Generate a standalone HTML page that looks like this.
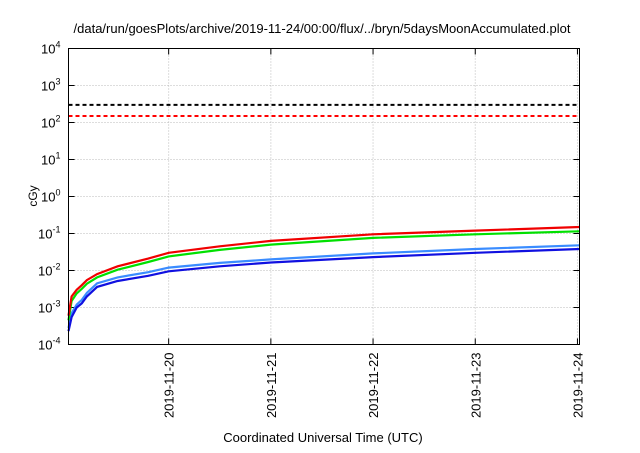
<!DOCTYPE html>
<html><head><meta charset="utf-8"><style>
body{margin:0;background:#fff}
svg{font-family:"Liberation Sans",sans-serif}
</style></head><body>
<svg width="640" height="448">
<text x="322" y="33" font-size="13" text-anchor="middle">/data/run/goesPlots/archive/2019-11-24/00:00/flux/../bryn/5daysMoonAccumulated.plot</text>
<g id="grid"></g><g id="axes"></g><g id="series"></g>
<rect x="68.5" y="48.5" width="511" height="296" fill="none" stroke="#000" stroke-width="1"/>
<text x="0" y="0" font-size="12" text-anchor="middle" transform="translate(37,196) rotate(-90)">cGy</text>
<text x="323" y="442" font-size="13" text-anchor="middle">Coordinated Universal Time (UTC)</text>
</svg>
<script>
const yTickExps=[-4,-3,-2,-1,0,1,2,3,4];
const xTickDays=[1,2,3,4,5];
const xTickLabels=["2019-11-20","2019-11-21","2019-11-22","2019-11-23","2019-11-24"];
const thresholdValues=[300,150];
const thresholdColors=["#000","#f00"];
const seriesDays=[0.02,0.05,0.1,0.15,0.2,0.3,0.5,0.8,1.0,1.5,2.0,3.0,4.0,5.02];
const redValues=[6e-4,2e-3,3e-3,4e-3,5.5e-3,8e-3,1.3e-2,2.1e-2,3e-2,4.5e-2,6.3e-2,9.5e-2,1.2e-1,1.5e-1];
const greenValues=[4.5e-4,1.5e-3,2.4e-3,3.2e-3,4.4e-3,6.5e-3,1.05e-2,1.7e-2,2.4e-2,3.6e-2,5e-2,7.6e-2,9.5e-2,1.15e-1];
const lightBlueValues=[2.8e-4,7e-4,1.2e-3,1.6e-3,2.5e-3,4.5e-3,6.5e-3,9e-3,1.2e-2,1.6e-2,2e-2,2.9e-2,3.8e-2,4.8e-2];
const darkBlueValues=[2.3e-4,5.5e-4,1e-3,1.3e-3,2e-3,3.6e-3,5.2e-3,7.2e-3,9.5e-3,1.3e-2,1.65e-2,2.3e-2,3e-2,3.8e-2];
const seriesList=[[lightBlueValues,"#3a8cff","series-light-blue"],[darkBlueValues,"#1010e0","series-dark-blue"],[greenValues,"#00e000","series-green"],[redValues,"#f00000","series-red"]];
const X0=68.5,X1=579.5,Y0=344.5,Y1=48.5,D0=0.02,D1=5.02;
const xs=d=>X0+(d-D0)/(D1-D0)*(X1-X0);
const ys=v=>Y0-(Math.log10(v)+4)/8*(Y0-Y1);
const NS="http://www.w3.org/2000/svg";
function mk(t,a,p){const e=document.createElementNS(NS,t);for(const k in a)e.setAttribute(k,a[k]);p.appendChild(e);return e;}
const grid=document.getElementById('grid'),axes=document.getElementById('axes'),ser=document.getElementById('series');
yTickExps.forEach(ex=>{const y=ys(Math.pow(10,ex));
 if(ex>-4&&ex<4){const g=mk('line',{x1:X0,x2:X1,y1:y,y2:y,stroke:'#bbb','stroke-dasharray':'1,2'},grid);
 
 }
 mk('line',{x1:X0,x2:X0+6,y1:y,y2:y,stroke:'#000'},axes);
 mk('line',{x1:X1,x2:X1-6,y1:y,y2:y,stroke:'#000'},axes);
 const t=mk('text',{x:X0-8,y:y+5,'font-size':13,'text-anchor':'end'},axes);
 
 
 t.innerHTML='10<tspan dy="-6" font-size="9">'+ex+'</tspan>';});
xTickDays.forEach((d,i)=>{const x=xs(d);
 const g=mk('line',{x1:x,x2:x,y1:Y0,y2:Y1,stroke:'#bbb','stroke-dasharray':'1,2'},grid);
 
 
 mk('line',{x1:x,x2:x,y1:Y0,y2:Y0-6,stroke:'#000'},axes);
 mk('line',{x1:x,x2:x,y1:Y1,y2:Y1+6,stroke:'#000'},axes);
 const t=mk('text',{x:0,y:0,'font-size':13,'text-anchor':'end',transform:`translate(${x+5},${Y0+8}) rotate(-90)`},axes);
 
 
 t.textContent=xTickLabels[i];});
thresholdValues.forEach((v,i)=>{const y=ys(v);
 const l=mk('line',{x1:X0,x2:X1,y1:y,y2:y,stroke:thresholdColors[i],'stroke-width':2,'stroke-dasharray':'4,3'},ser);
 
 });
seriesList.forEach(([vals,col,name])=>{
 const pts=seriesDays.map((d,i)=>xs(d).toFixed(1)+','+ys(vals[i]).toFixed(1)).join(' ');
 const p=mk('polyline',{points:pts,fill:'none',stroke:col,'stroke-width':2.2},ser);
 
 });
</script>
</body></html>
